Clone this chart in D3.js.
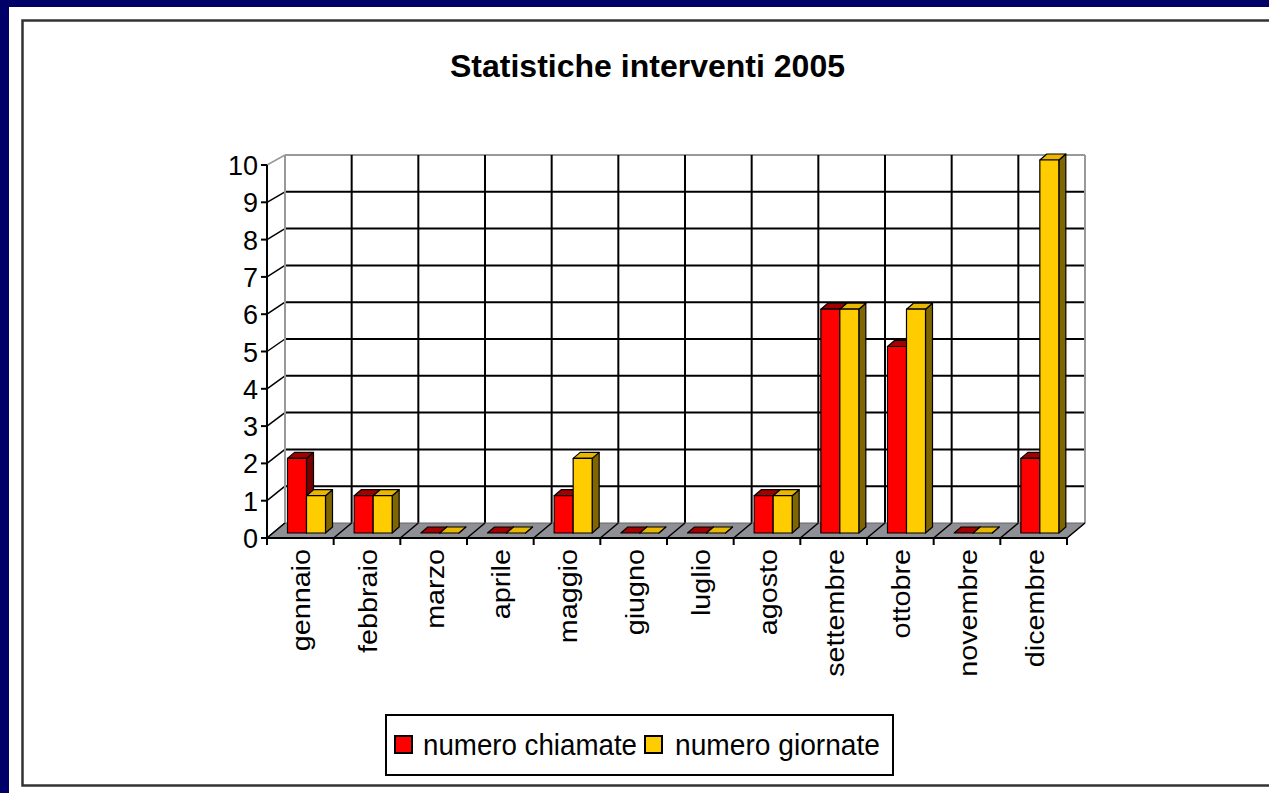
<!DOCTYPE html>
<html><head><meta charset="utf-8">
<script src="https://cdn.jsdelivr.net/npm/d3@7"></script>
<style>body{margin:0;background:#000068;}svg{display:block;font-family:Arial,"Liberation Sans",sans-serif;}</style>
</head><body>
<svg id="c" width="1269" height="793"></svg>
<script>
const months = ["gennaio","febbraio","marzo","aprile","maggio","giugno","luglio","agosto","settembre","ottobre","novembre","dicembre"];
const seriesNames = ["numero chiamate","numero giornate"];
const chiamate = [2,1,0,0,1,0,0,1,6,5,0,2];
const giornate = [1,1,0,0,2,0,0,1,6,6,0,10];
const yTicks = [0,1,2,3,4,5,6,7,8,9,10];
const titleText = "Statistiche interventi 2005";

const svg = d3.select("#c");
svg.append("rect").attr("width",1269).attr("height",793).attr("fill","#000068");
svg.append("rect").attr("x",9).attr("y",7).attr("width",1260).attr("height",786).attr("fill","#fff");
svg.append("rect").attr("x",22.5).attr("y",20.5).attr("width",1260).attr("height",765)
  .attr("fill","none").attr("stroke","#333").attr("stroke-width",2.5);

// geometry
const fx0 = 267, fy0 = 538;       // front origin
const W = 800;
const DX = 18;                    // wall depth (x)
const x = d3.scaleBand().domain(months).range([0, W]).paddingInner(0).paddingOuter(0);
const yFront = d3.scaleLinear().domain([0,10]).range([538, 165]);
const yBack  = d3.scaleLinear().domain([0,10]).range([523, 155]);
const yBar   = d3.scaleLinear().domain([0,10]).range([533, 160]);

const g = svg.append("g");
yTicks.forEach(v=>{
  const col = v===10 ? "#999" : "#000";
  if (v > 0) g.append("line").attr("x1",fx0+DX).attr("x2",fx0+DX+W)
   .attr("y1",yBack(v)).attr("y2",yBack(v)).attr("stroke",col).attr("stroke-width",2);
  g.append("line").attr("x1",fx0).attr("y1",yFront(v)).attr("x2",fx0+DX).attr("y2",yBack(v))
   .attr("stroke",col).attr("stroke-width",1.5);
});
months.forEach((m,i)=>{
  if(i===0) return;
  const xx = fx0+DX+x(m);
  g.append("line").attr("x1",xx).attr("x2",xx).attr("y1",yBack(10)).attr("y2",yBack(0))
   .attr("stroke","#000").attr("stroke-width",2);
});
[fx0+DX, fx0+DX+W].forEach(xx=>{
  g.append("line").attr("x1",xx).attr("x2",xx).attr("y1",yBack(10)).attr("y2",yBack(0)).attr("stroke","#999").attr("stroke-width",2);
});

// floor
g.append("path").attr("d",`M${fx0},${yFront(0)}L${fx0+W},${yFront(0)}L${fx0+W+DX},${yBack(0)}L${fx0+DX},${yBack(0)}Z`)
 .attr("fill","#8f8f96").attr("stroke","#666").attr("stroke-width",1);
months.concat(["_end"]).forEach((m,i)=>{
  const xx = fx0 + i*x.bandwidth();
  g.append("line").attr("x1",xx).attr("y1",yFront(0)).attr("x2",xx+DX).attr("y2",yBack(0)).attr("stroke","#000").attr("stroke-width",1.5);
});

// bars
const bx0 = fx0 + 8;
const bOff = 12.5, bW = 19, bdx = 7, bdy = -6;
const colors = [
  {front:"#ff0000", top:"#a30000", side:"#7a0000"},
  {front:"#ffcc00", top:"#e8b800", side:"#7f6600"}
];
const series = [chiamate, giornate];
const bars = svg.append("g").attr("stroke","#000").attr("stroke-width",1.2).attr("stroke-linejoin","round");
months.forEach((m,i)=>{
  series.forEach((vals,s)=>{
    const xl = bx0 + x(m) + bOff + s*bW, xr = xl + bW;
    const yt = yBar(vals[i]), yb = yBar(0);
    const c = colors[s];
    bars.append("path").attr("d",`M${xr},${yb}L${xr+bdx},${yb+bdy}L${xr+bdx},${yt+bdy}L${xr},${yt}Z`).attr("fill",c.side);
    bars.append("path").attr("d",`M${xl},${yt}L${xr},${yt}L${xr+bdx},${yt+bdy}L${xl+bdx},${yt+bdy}Z`).attr("fill",c.top);
    if (vals[i] > 0)
      bars.append("rect").attr("x",xl).attr("y",yt).attr("width",bW).attr("height",yb-yt).attr("fill",c.front);
  });
});

// front axes
svg.append("line").attr("x1",fx0).attr("x2",fx0).attr("y1",yFront(10)).attr("y2",yFront(0)).attr("stroke","#000").attr("stroke-width",2);
svg.append("line").attr("x1",fx0).attr("x2",fx0+W).attr("y1",yFront(0)).attr("y2",yFront(0)).attr("stroke","#000").attr("stroke-width",2);
yTicks.forEach(v=>{
  svg.append("line").attr("x1",fx0-6).attr("x2",fx0).attr("y1",yFront(v)).attr("y2",yFront(v)).attr("stroke","#000").attr("stroke-width",2);
  svg.append("text").attr("x",fx0-9).attr("y",yFront(v)+10).attr("text-anchor","end")
    .attr("font-size",27).attr("fill","#000").text(v);
});
months.concat(["_end"]).forEach((m,i)=>{
  const xx = fx0 + i*x.bandwidth();
  svg.append("line").attr("x1",xx).attr("x2",xx).attr("y1",yFront(0)).attr("y2",yFront(0)+7).attr("stroke","#000").attr("stroke-width",2);
});
months.forEach(m=>{
  const cx = fx0 + x(m) + x.bandwidth()/2 + 10;
  const t = svg.append("text").attr("transform",`translate(${cx},549) rotate(-90)`)
    .attr("text-anchor","end").attr("font-size",25).attr("fill","#000").text(m);
  const L = t.node().getComputedTextLength();
  t.attr("textLength", L*1.15).attr("lengthAdjust","spacingAndGlyphs");
});

// title
svg.append("text").attr("x",450).attr("y",77).attr("font-size",32).attr("font-weight","bold")
  .attr("textLength",395).attr("lengthAdjust","spacingAndGlyphs").attr("fill","#000").text(titleText);

// legend
const lg = svg.append("g");
lg.append("rect").attr("x",386).attr("y",715).attr("width",507).attr("height",60).attr("fill","#fff").attr("stroke","#000").attr("stroke-width",2);
const legX = [[395,423,214],[645,675,205]];
seriesNames.forEach((n,s)=>{
  lg.append("rect").attr("x",legX[s][0]).attr("y",736).attr("width",17).attr("height",17)
    .attr("fill",colors[s].front).attr("stroke","#000").attr("stroke-width",2);
  lg.append("text").attr("x",legX[s][1]).attr("y",755).attr("font-size",30).attr("fill","#000")
    .attr("textLength",legX[s][2]).attr("lengthAdjust","spacingAndGlyphs").text(n);
});
</script>
</body></html>
